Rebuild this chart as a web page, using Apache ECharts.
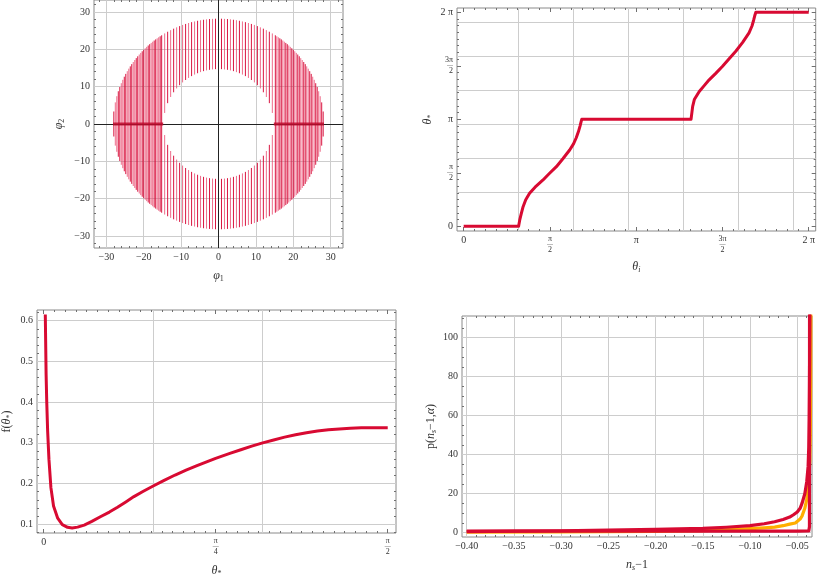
<!DOCTYPE html>
<html><head><meta charset="utf-8">
<script src="https://cdn.jsdelivr.net/npm/echarts@6/dist/echarts.min.js"></script>
<style>html,body{margin:0;padding:0;background:#fff}#c{width:818px;height:584px}</style>
</head><body><div id="c"></div>
<script>
// ---------- Panel 1 (phi1, phi2) : vertical strands of the ring ----------
const phi1 = [-28.0,-27.2,-26.4,-25.6,-24.8,-24.0,-23.2,-22.4,-21.6,-20.8,-20.0,-19.2,-18.4,-17.6,-16.8,-16.0,-15.2,-14.4,-13.6,-12.8,-12.0,-11.2,-10.4,-9.6,-8.8,-8.0,-7.2,-6.4,-5.6,-4.8,-4.0,-3.2,-2.4,-1.6,-0.8,0,
  0.8,1.6,2.4,3.2,4.0,4.8,5.6,6.4,7.2,8.0,8.8,9.6,10.4,11.2,12.0,12.8,13.6,14.4,15.2,16.0,16.8,17.6,18.4,19.2,20.0,20.8,21.6,22.4,23.2,24.0,24.8,25.6,26.4,27.2,28.0];
const phi2Outer = [3.35,7.44,9.91,11.83,13.42,14.81,16.03,17.13,18.13,19.04,19.88,20.65,21.37,22.03,22.65,23.22,23.75,24.25,24.70,25.13,25.52,25.88,26.21,26.52,26.79,27.04,27.27,27.46,27.64,27.79,27.91,28.02,28.10,28.15,28.19,28.20,
  28.19,28.15,28.10,28.02,27.91,27.79,27.64,27.46,27.27,27.04,26.79,26.52,26.21,25.88,25.52,25.13,24.70,24.25,23.75,23.22,22.65,22.03,21.37,20.65,19.88,19.04,18.13,17.13,16.03,14.81,13.42,11.83,9.91,7.44,3.35];
const phi2Inner = [0,0,0,0,0,0,0,0,0,0,0,0,0,0,0,0,0,2.95,5.58,7.23,8.49,9.52,10.39,11.13,11.78,12.33,12.82,13.23,13.59,13.89,14.15,14.35,14.50,14.61,14.68,14.70,
  14.68,14.61,14.50,14.35,14.15,13.89,13.59,13.23,12.82,12.33,11.78,11.13,10.39,9.52,8.49,7.23,5.58,2.95,0,0,0,0,0,0,0,0,0,0,0,0,0,0,0,0,0];
// extra, denser strands in the two side lobes
const phi1Side = [-27.6,-26.8,-26.0,-25.2,-24.4,-23.6,-22.8,-22.0,-21.2,-20.4,-19.6,-18.8,-18.0,-17.2,-16.4,-15.6,
  15.6,16.4,17.2,18.0,18.8,19.6,20.4,21.2,22.0,22.8,23.6,24.4,25.2,26.0,26.8,27.6];
const phi2Side = [5.79,8.77,10.92,12.66,14.14,15.44,16.60,17.64,18.60,19.47,20.28,21.02,21.71,22.35,22.94,23.49,
  23.49,22.94,22.35,21.71,21.02,20.28,19.47,18.60,17.64,16.60,15.44,14.14,12.66,10.92,8.77,5.79];
const bandLeft = [[-28.2,0],[-14.8,0]];
const bandRight = [[14.8,0],[28.2,0]];
const p1Ticks = [-30,-20,-10,0,10,20,30];
const p1TickLabels = ['\u221230','\u221220','\u221210','0','10','20','30'];
const p1Grid = [-30,-20,-10,10,20,30];

// ---------- Panel 2 (theta_i, theta_*) ----------
const thetaI = [0,0.5,1.0,1.02,1.05,1.082,1.13,1.2,1.3,1.445,1.56,1.688,1.81,1.93,2.0,2.05,2.09,2.12,2.14,2.15,2.6,3.14,3.6,
  4.14,4.155,4.17,4.2,4.29,4.38,4.47,4.59,4.71,4.83,4.955,5.08,5.196,5.25,5.28,5.30,5.32,5.8,6.2832];
const thetaOut = [0,0,0,0.18,0.38,0.576,0.78,0.97,1.15,1.36,1.55,1.75,1.99,2.24,2.42,2.6,2.78,2.95,3.08,3.1416,3.1416,3.1416,3.1416,
  3.1416,3.33,3.52,3.72,3.96,4.13,4.30,4.49,4.69,4.91,5.14,5.40,5.68,5.88,6.05,6.18,6.2832,6.2832,6.2832];
const piTicks = [0,1.5708,3.1416,4.7124,6.2832];
const piTickLabels = ['0','\u03c0/2','\u03c0','3\u03c0/2','2 \u03c0'];
const p2Grid = [1,2,3,4,5,6];

// ---------- Panel 3 (theta_*, f) ----------
const thetaStar = [0.0074,0.009,0.011,0.014,0.018,0.024,0.033,0.045,0.064,0.085,0.109,0.13,0.155,0.185,0.22,0.261,0.30,0.337,0.375,0.412,0.455,0.5,0.55,0.6,0.65,
  0.7,0.785,0.85,0.9,0.95,1.0,1.05,1.1,1.15,1.2,1.25,1.3,1.35,1.4,1.45,1.5,1.5708];
const fVals = [0.615,0.55,0.47,0.40,0.33,0.26,0.19,0.145,0.115,0.099,0.0926,0.091,0.093,0.098,0.107,0.119,0.130,0.142,0.155,0.168,0.181,0.194,0.208,0.221,0.233,
  0.244,0.262,0.274,0.283,0.292,0.300,0.307,0.314,0.320,0.325,0.329,0.332,0.334,0.336,0.337,0.337,0.337];
const p3xTicks = [0,0.7854,1.5708];
const p3xTickLabels = ['0','\u03c0/4','\u03c0/2'];
const p3yTicks = [0.1,0.2,0.3,0.4,0.5,0.6];
const p3yTickLabels = ['0.1','0.2','0.3','0.4','0.5','0.6'];
const p3xGrid = [0.5,1.0];
const p3yGrid = [0.1,0.2,0.3,0.4,0.5,0.6];

// ---------- Panel 4 (n_s - 1, p) ----------
const nsRedA = [-0.40,-0.35,-0.30,-0.25,-0.20,-0.15,-0.125,-0.10,-0.085,-0.074,-0.065,-0.058,-0.054,-0.050,-0.047,-0.045,-0.042,-0.040,-0.0385,-0.0378,-0.0374,-0.0371,-0.0369,-0.0367];
const pRedA = [0.6,0.8,1.0,1.3,1.7,2.2,2.8,3.6,4.6,5.6,6.8,8.0,9.2,10.6,12.5,15,20,26,34,44,58,75,92,112];
const nsOrange = [-0.40,-0.30,-0.20,-0.15,-0.10,-0.085,-0.074,-0.065,-0.058,-0.052,-0.050,-0.047,-0.045,-0.042,-0.040,-0.0385,-0.0374,-0.0367,-0.0362,-0.0358,-0.0356];
const pOrange = [0.3,0.4,0.7,1.0,2.1,2.5,2.9,3.6,4.4,5.0,5.6,7.0,8.5,12.5,17,24,31,37,50,75,112];
const nsRedB = [-0.40,-0.30,-0.20,-0.10,-0.05,-0.0378,-0.0371,-0.0370];
const pRedB = [0.8,0.8,0.8,0.8,0.8,0.9,3,112];
const p4xTicks = [-0.40,-0.35,-0.30,-0.25,-0.20,-0.15,-0.10,-0.05];
const p4xTickLabels = ['\u22120.40','\u22120.35','\u22120.30','\u22120.25','\u22120.20','\u22120.15','\u22120.10','\u22120.05'];
const p4yTicks = [0,20,40,60,80,100];
const p4yTickLabels = ['0','20','40','60','80','100'];

// ---------- styling helpers ----------
const F = '"Liberation Serif","Times New Roman",serif';
const TICK = '#707070', GRIDC = '#cdcdcd', FRAME = '#8a8a8a', TXT = '#333';
const RED = '#d80a32', ORANGE = '#ffae00';

function steps(a, b, s) { const r = []; for (let k = Math.ceil(a / s - 1e-9); k * s <= b + 1e-9; k++) r.push(+(k * s).toFixed(6)); return r; }
function fracLabel(s) {
  if (s.indexOf('/') < 0) return s;
  const p = s.split('/');
  return '{n|' + p[0] + '}\n{b|\u2015}\n{d|' + p[1] + '}';
}
const fracRich = {
  n: { fontFamily: F, fontSize: 8, lineHeight: 8, color: TXT },
  b: { fontFamily: F, fontSize: 6, lineHeight: 3, color: TXT },
  d: { fontFamily: F, fontSize: 8, lineHeight: 8, color: TXT }
};
const nameRich = {
  i: { fontFamily: F, fontStyle: 'italic', fontSize: 12, color: TXT, lineHeight: 14 },
  r: { fontFamily: F, fontSize: 12, color: TXT, lineHeight: 14 },
  s: { fontFamily: F, fontSize: 8, color: TXT, lineHeight: 14, verticalAlign: 'bottom', padding: [5, 0, 0, 0] },
  si: { fontFamily: F, fontStyle: 'italic', fontSize: 8, color: TXT, lineHeight: 14, verticalAlign: 'bottom', padding: [5, 0, 0, 0] }
};

function axisSet(dim, gi, min, max, major, labels, minor, name, nameGap, labelExtra) {
  const pos = dim === 'x' ? ['bottom', 'top'] : ['left', 'right'];
  const base = () => ({ gridIndex: gi, type: 'value', min: min, max: max, silent: true,
    splitLine: { show: false }, axisLine: { show: false, onZero: false }, axisPointer: { show: false } });
  const tk = (vals, len) => ({ show: true, inside: true, length: len, customValues: vals, lineStyle: { color: TICK, width: 1 } });
  const fmt = v => { let b = 0; for (let i = 1; i < major.length; i++) if (Math.abs(major[i] - v) < Math.abs(major[b] - v)) b = i; return fracLabel(labels[b]); };
  const a0 = Object.assign(base(), {
    position: pos[0], axisTick: tk(major, 4),
    axisLabel: Object.assign({ show: true, customValues: major, formatter: fmt, fontFamily: F, fontSize: 10, color: TXT, margin: 4, rich: fracRich }, labelExtra || {}),
    name: name, nameLocation: 'middle', nameGap: nameGap, nameTextStyle: { rich: nameRich }
  });
  const a1 = Object.assign(base(), { position: pos[0], axisTick: tk(minor, 2), axisLabel: { show: false } });
  const a2 = Object.assign(base(), { position: pos[1], axisTick: tk(major, 4), axisLabel: { show: false } });
  const a3 = Object.assign(base(), { position: pos[1], axisTick: tk(minor, 2), axisLabel: { show: false } });
  return [a0, a1, a2, a3];
}
function gridLines(gi, xs, ys, color, z) {
  const d = [];
  xs.forEach(v => d.push({ xAxis: v }));
  ys.forEach(v => d.push({ yAxis: v }));
  return { type: 'line', xAxisIndex: gi * 4, yAxisIndex: gi * 4, data: [], silent: true, z: z,
    markLine: { silent: true, symbol: 'none', animation: false, label: { show: false }, emphasis: { disabled: true },
      lineStyle: { color: color, width: 1, type: 'solid' }, z: z, data: d } };
}
function curve(gi, xs, ys, color, w, z) {
  return { type: 'line', xAxisIndex: gi * 4, yAxisIndex: gi * 4, data: xs.map((x, i) => [x, ys[i]]),
    showSymbol: false, symbol: 'none', lineStyle: { color: color, width: w, join: 'round' }, z: z, silent: true, clip: true };
}

// ring segments from the arrays
const ringSegs = [];
phi1.forEach((x, i) => {
  const o = phi2Outer[i], n = phi2Inner[i];
  if (n > 0) { ringSegs.push([x, n, o, i]); ringSegs.push([x, -o, -n, i]); }
  else ringSegs.push([x, -o, o, i]);
});
phi1Side.forEach((x, i) => ringSegs.push([x, -phi2Side[i], phi2Side[i], i + 1]));

const grids = [
  { left: 94, top: 0, width: 249, height: 248 },
  { left: 457, top: 8, width: 360, height: 223 },
  { left: 36, top: 310, width: 360, height: 223 },
  { left: 462, top: 316, width: 350, height: 221 }
].map(g => Object.assign(g, { show: true, borderColor: FRAME, borderWidth: 1, backgroundColor: 'transparent', containLabel: false }));

const xAxes = [].concat(
  axisSet('x', 0, -33.3, 33.3, p1Ticks, p1TickLabels, steps(-32, 32, 2), '{i|\u03c6}{s|1}', 21),
  axisSet('x', 1, -0.1216, 6.41, piTicks, piTickLabels, steps(0, 6.41, 0.19635), '{i|\u03b8}{si|i}', 29),
  axisSet('x', 2, -0.0305, 1.6086, p3xTicks, p3xTickLabels, steps(0, 1.6086, 0.0490874), '{i|\u03b8}{s|*}', 31),
  axisSet('x', 3, -0.405, -0.0344, p4xTicks, p4xTickLabels, steps(-0.40, -0.035, 0.01), '{i|n}{si|s}{r|\u22121}', 21)
);
const yAxes = [].concat(
  axisSet('y', 0, -33.2, 33.2, p1Ticks, p1TickLabels, steps(-32, 32, 2), '{i|\u03c6}{s|2}', 28),
  axisSet('y', 1, -0.138, 6.409, piTicks, piTickLabels, steps(0, 6.409, 0.19635), '{i|\u03b8}{s|*}', 22),
  axisSet('y', 2, 0.0786, 0.6263, p3yTicks, p3yTickLabels, steps(0.08, 0.62, 0.02), '{r|f(}{i|\u03b8}{s|*}{r|)}', 23),
  axisSet('y', 3, -2.2, 111.1, p4yTicks, p4yTickLabels, steps(0, 110, 5), '{r|p(}{i|n}{si|s}{r|\u22121,}{i|\u03b1}{r|)}', 24)
);

const series = [
  gridLines(0, p1Grid, p1Grid, GRIDC, 1),
  gridLines(1, p2Grid, p2Grid, GRIDC, 1),
  gridLines(2, p3xGrid, p3yGrid, GRIDC, 1),
  gridLines(3, p4xTicks, p4yTicks, GRIDC, 1),
  {
    type: 'custom', xAxisIndex: 0, yAxisIndex: 0, data: ringSegs, z: 3, silent: true, clip: true,
    encode: { x: 0, y: [1, 2] },
    renderItem: function (params, api) {
      const a = api.coord([api.value(0), api.value(1)]);
      const b = api.coord([api.value(0), api.value(2)]);
      const k = api.value(3);
      return { type: 'line', shape: { x1: a[0], y1: a[1], x2: b[0], y2: b[1] },
        style: { stroke: k % 2 ? 'rgba(232,60,100,0.75)' : 'rgba(215,10,55,0.95)', lineWidth: 1 } };
    }
  },
  gridLines(0, [0], [0], '#222', 4),
  curve(0, bandLeft.map(p => p[0]), bandLeft.map(p => p[1]), 'rgba(190,10,45,0.85)', 3, 5),
  curve(0, bandRight.map(p => p[0]), bandRight.map(p => p[1]), 'rgba(190,10,45,0.85)', 3, 5),
  curve(1, thetaI, thetaOut, RED, 3, 5),
  curve(2, thetaStar, fVals, RED, 3, 5),
  curve(3, nsOrange, pOrange, ORANGE, 3.2, 5),
  curve(3, nsRedA, pRedA, RED, 3.2, 6),
  curve(3, nsRedB, pRedB, RED, 3.2, 6)
];

const chart = echarts.init(document.getElementById('c'), null, { renderer: 'canvas', width: 818, height: 584 });
chart.setOption({ animation: false, backgroundColor: '#fff', grid: grids, xAxis: xAxes, yAxis: yAxes, series: series });
</script></body></html>
